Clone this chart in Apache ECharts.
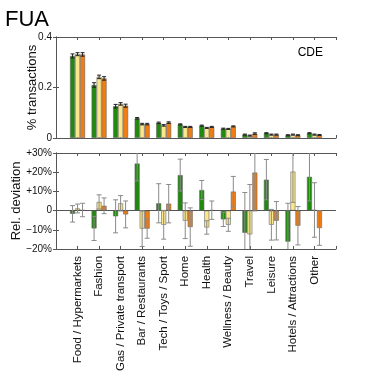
<!DOCTYPE html>
<html>
<head>
<meta charset="utf-8">
<script src="https://cdn.jsdelivr.net/npm/echarts@6/dist/echarts.min.js"></script>
<style>
  html, body { margin: 0; padding: 0; background: #fff; }
  #chart { width: 374px; height: 374px; }
</style>
</head>
<body>
<div id="chart"></div>
<script>
// categories along x
const categories = [
  "Food / Hypermarkets", "Fashion", "Gas / Private transport", "Bar / Restaurants",
  "Tech / Toys / Sport", "Home", "Health", "Wellness / Beauty", "Travel",
  "Leisure", "Hotels / Attractions", "Other"
];

// top panel: share of transactions (green, yellow, orange)
const shareGreen  = [0.325, 0.210, 0.126, 0.078, 0.060, 0.054, 0.049, 0.037, 0.0135, 0.019, 0.011, 0.019];
const shareYellow = [0.332, 0.242, 0.135, 0.055, 0.050, 0.044, 0.040, 0.036, 0.0095, 0.0135, 0.0135, 0.0135];
const shareOrange = [0.331, 0.236, 0.128, 0.055, 0.061, 0.044, 0.044, 0.046, 0.0175, 0.0135, 0.011, 0.012];
const shareErrGreen  = [0.008, 0.009, 0.007, 0.003, 0.003, 0.002, 0.002, 0.002, 0.002, 0.002, 0.002, 0.002];
const shareErrYellow = [0.006, 0.007, 0.005, 0.003, 0.003, 0.002, 0.002, 0.002, 0.002, 0.002, 0.002, 0.002];
const shareErrOrange = [0.007, 0.007, 0.006, 0.003, 0.003, 0.002, 0.002, 0.002, 0.003, 0.002, 0.002, 0.002];

// bottom panel: relative deviation in %
const devGreen  = [-1.7, -9.3, -3.0, 24.5, 3.8, 18.5, 10.7, -4.6, -11.6, 16.1, -16.2, 17.6];
const devYellow = [1.1, 4.5, 3.8, -9.4, -7.4, -5.3, -8.8, -7.4, -12.4, -7.4, 20.3, 0.3];
const devOrange = [0.3, 2.5, -2.0, -9.4, 3.6, -8.6, 0.2, 9.9, 19.8, -5.3, -7.9, -9.1];
const devErrGreen  = [4.3, 6.3, 8.6, 9.0, 10.2, 8.3, 5.0, 3.7, 21, 10.5, 20, 12.6];
const devErrYellow = [2.3, 3.7, 4.0, 9.3, 7.5, 9.3, 3.5, 3.4, 26, 8.0, 16, 14.2];
const devErrOrange = [3.5, 4.1, 7.0, 5.0, 10.0, 10.0, 4.8, 7.9, 20, 10.0, 10, 9.0];

const colors = ["#1f8a0c", "#fbe88c", "#f07d14"];
const FONT = "'Liberation Sans', Arial, sans-serif";
const axisColor = "#555";

const chart = echarts.init(document.getElementById("chart"));

const toPairs = (vals) => vals.map((v, i) => [i + 1, v]);
const toErr = (vals, errs) => vals.map((v, i) => [i + 1, v - errs[i], v + errs[i]]);

function errorBars(offset, stroke, cap) {
  return function (params, api) {
    const x = api.value(0);
    const lo = api.coord([x, api.value(1)]);
    const hi = api.coord([x, api.value(2)]);
    const cx = lo[0] + offset;
    const style = { stroke: stroke, lineWidth: 1 };
    return {
      type: "group",
      children: [
        { type: "line", shape: { x1: cx, y1: lo[1], x2: cx, y2: hi[1] }, style: style },
        { type: "line", shape: { x1: cx - cap, y1: lo[1], x2: cx + cap, y2: lo[1] }, style: style },
        { type: "line", shape: { x1: cx - cap, y1: hi[1], x2: cx + cap, y2: hi[1] }, style: style }
      ]
    };
  };
}

function frameX(gridIndex, position, showLabels) {
  return {
    type: "value", gridIndex: gridIndex, position: position,
    min: 0, max: 13, interval: 1,
    axisLine: { show: true, onZero: false, lineStyle: { color: axisColor, width: 1 } },
    axisTick: { show: true, inside: true, length: 3, lineStyle: { color: axisColor } },
    splitLine: { show: false },
    axisLabel: showLabels ? {
      show: true, rotate: 90, margin: 7, interval: 0,
      fontSize: 11.5, fontFamily: FONT, color: "#111",
      formatter: (v) => categories[v - 1] || ""
    } : { show: false }
  };
}

function frameY(gridIndex, position, min, max, interval, fmt, name, nameGap) {
  return {
    type: "value", gridIndex: gridIndex, position: position,
    min: min, max: max, interval: interval,
    name: name, nameLocation: "middle", nameGap: nameGap, nameMoveOverlap: false,
    nameTextStyle: { fontSize: 13, fontFamily: FONT, color: "#111" },
    axisLine: { show: true, lineStyle: { color: axisColor, width: 1 } },
    axisTick: { show: true, inside: true, length: 3, lineStyle: { color: axisColor } },
    splitLine: { show: false },
    axisLabel: fmt ? { show: true, margin: 4, fontSize: 10, fontFamily: FONT, color: "#111", formatter: fmt } : { show: false }
  };
}

const devFmt = (v) => v > 0 ? "+" + v + "%" : (v < 0 ? "\u2212" + Math.abs(v) + "%" : "0");
const shareFmt = (v) => v === 0 ? "0" : String(+v.toFixed(1));

const shares = [shareGreen, shareYellow, shareOrange];
const shareErrs = [shareErrGreen, shareErrYellow, shareErrOrange];
const devs = [devGreen, devYellow, devOrange];
const devErrs = [devErrGreen, devErrYellow, devErrOrange];
const offsets = [-5, 0, 5];

const series = [];
shares.forEach((d, k) => {
  series.push({
    type: "bar", xAxisIndex: 0, yAxisIndex: 0, data: toPairs(d),
    barWidth: 5, barGap: "0%",
    itemStyle: { color: colors[k], borderColor: "#666", borderWidth: 0.6 }
  });
});
devs.forEach((d, k) => {
  const s = {
    type: "bar", xAxisIndex: 2, yAxisIndex: 2, data: toPairs(d),
    barWidth: 5, barGap: "0%",
    itemStyle: { color: colors[k], borderColor: "#666", borderWidth: 0.6 }
  };
  if (k === 0) {
    s.markLine = {
      silent: true, symbol: ["none", "none"], label: { show: false },
      lineStyle: { color: "#555", width: 1, type: "solid" },
      data: [{ yAxis: 0 }]
    };
  }
  series.push(s);
});
shares.forEach((d, k) => {
  series.push({
    type: "custom", xAxisIndex: 0, yAxisIndex: 0, clip: true, z: 5,
    data: toErr(d, shareErrs[k]), encode: { x: 0, y: [1, 2] },
    renderItem: errorBars(offsets[k], "#222", 2)
  });
});
devs.forEach((d, k) => {
  series.push({
    type: "custom", xAxisIndex: 2, yAxisIndex: 2, clip: true, z: 5,
    data: toErr(d, devErrs[k]), encode: { x: 0, y: [1, 2] },
    renderItem: errorBars(offsets[k], "#8a8a8a", 2.5)
  });
});

chart.setOption({
  animation: false,
  backgroundColor: "#fff",
  grid: [
    { left: 56, top: 37, width: 280, height: 101 },
    { left: 56, top: 153, width: 280, height: 101 }
  ],
  xAxis: [
    frameX(0, "bottom", false),
    frameX(0, "top", false),
    frameX(1, "bottom", true),
    frameX(1, "top", false)
  ],
  yAxis: [
    frameY(0, "left", 0, 0.4, 0.2, shareFmt, "% transactions", 17),
    frameY(0, "right", 0, 0.4, 0.2, null, "", 0),
    frameY(1, "left", -20, 30, 10, devFmt, "Rel. deviation", 33),
    frameY(1, "right", -20, 30, 10, null, "", 0)
  ],
  graphic: [
    { type: "text", left: 5, top: 9, style: { text: "FUA", fontSize: 22, fontFamily: FONT, fill: "#000" } },
    { type: "text", x: 323, y: 52.5, style: { text: "CDE", fontSize: 12, fontFamily: FONT, fill: "#000", align: "right", verticalAlign: "middle" } }
  ],
  series: series
});
</script>
</body>
</html>
